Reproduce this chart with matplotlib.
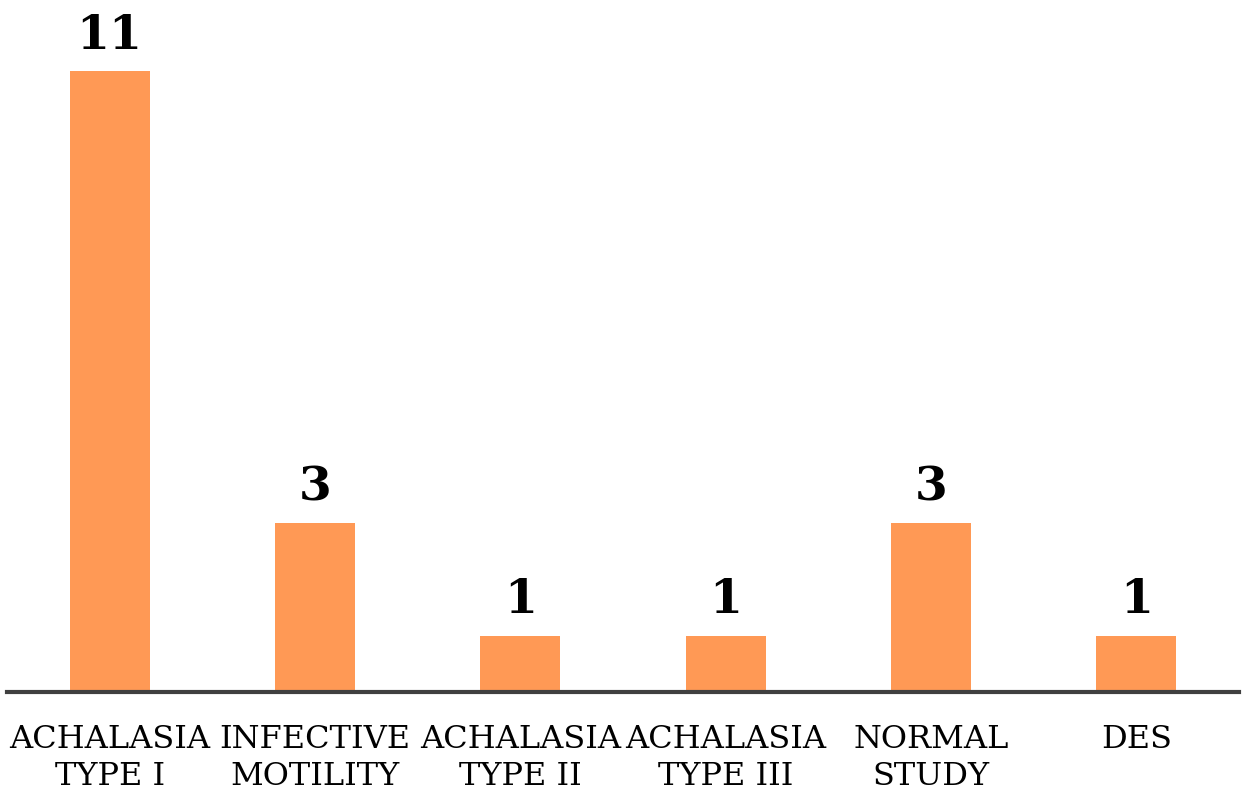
import matplotlib
matplotlib.use("Agg")
import matplotlib.pyplot as plt

categories = ['ACHALASIA\nTYPE I', 'INFECTIVE\nMOTILITY', 'ACHALASIA\nTYPE II',
              'ACHALASIA\nTYPE III', 'NORMAL\nSTUDY', 'DES']
counts = [11, 3, 1, 1, 3, 1]

plt.rcParams['font.family'] = ['DejaVu Serif']

fig = plt.figure(figsize=(12.51, 7.90), dpi=100)
ax = fig.add_axes([7 / 1251, 98 / 790, 1232 / 1251, 621 / 790])

x = range(len(categories))
bars = ax.bar(x, counts, width=0.39, color='#FF9955', zorder=2)
for xi, v in zip(x, counts):
    ax.text(xi, v + 0.22, str(v), ha='center', va='bottom', fontsize=34,
            fontweight='bold', clip_on=False)

ax.set_xlim(-0.5, len(categories) - 0.5)
ax.set_ylim(0, 11)
ax.set_xticks(list(x))
ax.set_xticklabels(categories, fontsize=23, linespacing=1.27)
ax.tick_params(axis='x', length=0, pad=23)
ax.set_yticks([])
for s in ['top', 'right', 'left']:
    ax.spines[s].set_visible(False)
ax.spines['bottom'].set_color('#404040')
ax.spines['bottom'].set_linewidth(3)
ax.spines['bottom'].set_zorder(3)

fig.savefig('out.png', dpi=100)
